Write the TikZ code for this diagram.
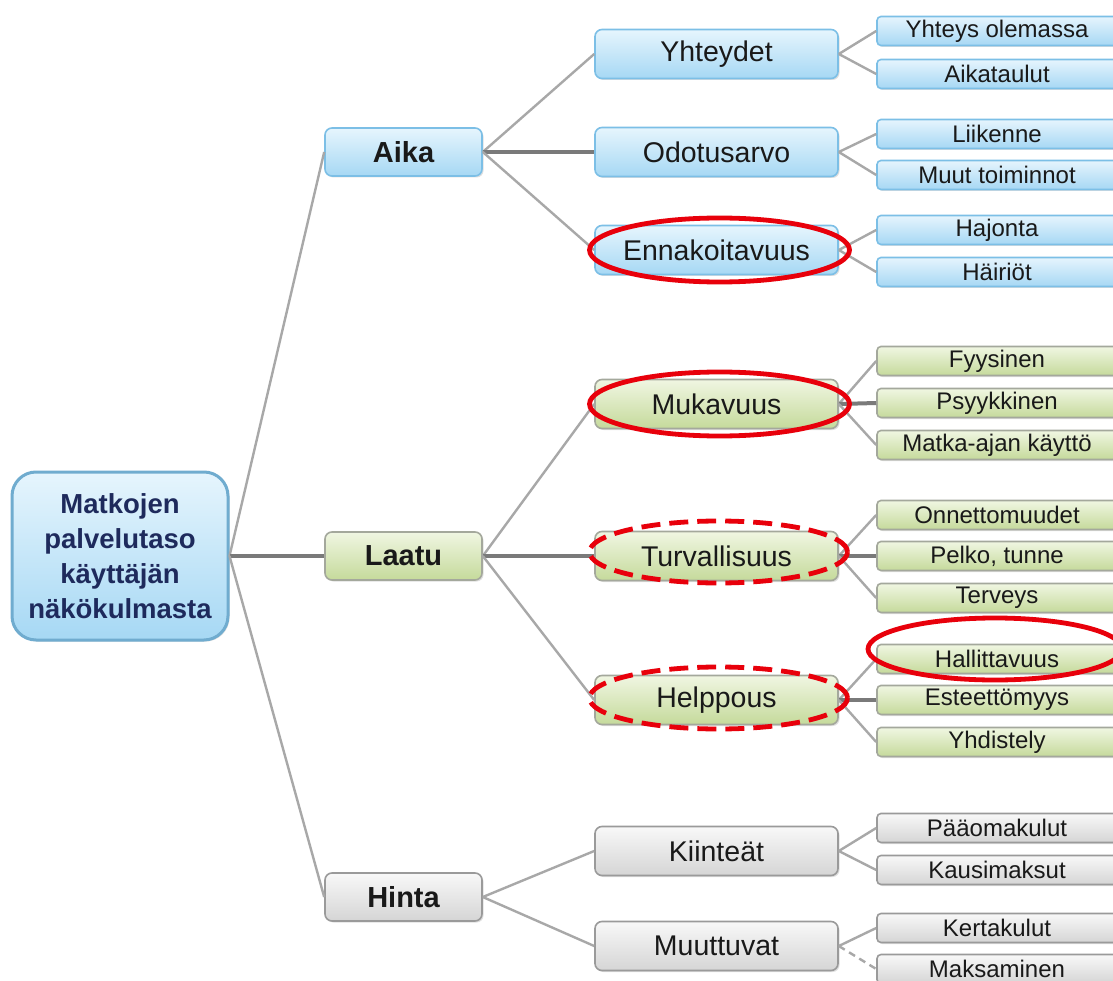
\documentclass[tikz,border=0pt]{standalone}
\usepackage{fontspec}
\setmainfont{Liberation Sans}
\usetikzlibrary{shadows}
\definecolor{bluetop}{HTML}{E6F5FD}
\definecolor{bluebot}{HTML}{A6D8F4}
\definecolor{blueline}{HTML}{7CBFE6}
\definecolor{greentop}{HTML}{F0F6E2}
\definecolor{greenbot}{HTML}{C5DA9B}
\definecolor{greenline}{HTML}{A4A89C}
\definecolor{greytop}{HTML}{F8F8F8}
\definecolor{greybot}{HTML}{D5D5D5}
\definecolor{greyline}{HTML}{9A9A9A}
\definecolor{linkgrey}{HTML}{A8A8A8}
\definecolor{rootink}{HTML}{1E2A5C}
\definecolor{ringred}{HTML}{E8000B}
\tikzset{
  box/.style={draw, rounded corners=7pt, line width=1.6pt, align=center, inner sep=0pt,
    text=black!90, drop shadow={shadow xshift=1.5pt, shadow yshift=-1.5pt, opacity=0.25}},
  rootbox/.style={box, draw=blueline!90!black, rounded corners=24pt, line width=3pt,
    top color=bluetop, bottom color=bluebot, text=rootink,
    minimum width=216pt, minimum height=168pt, font=\bfseries\fontsize{27.5}{35}\selectfont},
  lvlone/.style={box, minimum width=157pt, minimum height=48pt, font=\bfseries\fontsize{29}{34}\selectfont},
  lvltwo/.style={box, minimum width=243pt, minimum height=49pt, font=\fontsize{28.5}{34}\selectfont},
  lvlthree/.style={box, rounded corners=4pt, minimum width=240pt, minimum height=29pt, font=\fontsize{24}{28}\selectfont},
  aikafill/.style={draw=blueline, top color=bluetop, bottom color=bluebot},
  laatufill/.style={draw=greenline, top color=greentop, bottom color=greenbot},
  hintafill/.style={draw=greyline, top color=greytop, bottom color=greybot},
  link/.style={draw=linkgrey, line width=2.4pt},
  mainlink/.style={draw=black!52, line width=4pt},
  ring/.style={draw=ringred, line width=4.8pt},
  dashring/.style={ring, dash pattern=on 19pt off 9pt},
}

\begin{document}
\begin{tikzpicture}[x=1pt, y=-1pt]
		%%%%% FRAME %%%%%
		\path[use as bounding box, clip] (0, 0) rectangle (1113, 981);
		\fill[white] (0, 0) rectangle (1113, 981);
		
		%%%%% ROOT AND MAIN BRANCHES %%%%%
		\node[rootbox] (root) at (120, 556) {Matkojen\\palvelutaso\\käyttäjän\\näkökulmasta};
		\node[lvlone, aikafill] (aika) at (403.5, 152) {Aika};
		\node[lvlone, laatufill] (laatu) at (403.5, 556) {Laatu};
		\node[lvlone, hintafill] (hinta) at (403.5, 897) {Hinta};
		
		%%%%% SECOND LEVEL %%%%%
		\node[lvltwo, aikafill] (yhteydet) at (716.5, 54) {Yhteydet};
		\node[lvltwo, aikafill] (odotusarvo) at (716.5, 152) {Odotusarvo};
		\node[lvltwo, aikafill] (ennakoitavuus) at (716.5, 250) {Ennakoitavuus};
		\node[lvltwo, laatufill] (mukavuus) at (716.5, 404) {Mukavuus};
		\node[lvltwo, laatufill] (turvallisuus) at (716.5, 556) {Turvallisuus};
		\node[lvltwo, laatufill] (helppous) at (716.5, 700) {Helppous};
		\node[lvltwo, hintafill] (kiinteat) at (716.5, 851) {Kiinteät};
		\node[lvltwo, hintafill] (muuttuvat) at (716.5, 946) {Muuttuvat};
		
		%%%%% THIRD LEVEL %%%%%
		\node[lvlthree, aikafill] (yhteys) at (997, 31) {Yhteys olemassa};
		\node[lvlthree, aikafill] (aikataulut) at (997, 74) {Aikataulut};
		\node[lvlthree, aikafill] (liikenne) at (997, 134) {Liikenne};
		\node[lvlthree, aikafill] (muut) at (997, 175) {Muut toiminnot};
		\node[lvlthree, aikafill] (hajonta) at (997, 230) {Hajonta};
		\node[lvlthree, aikafill] (hairiot) at (997, 272) {Häiriöt};
		
		\node[lvlthree, laatufill] (fyysinen) at (997, 361) {Fyysinen};
		\node[lvlthree, laatufill] (psyykkinen) at (997, 403) {Psyykkinen};
		\node[lvlthree, laatufill] (matka) at (997, 445) {Matka-ajan käyttö};
		\node[lvlthree, laatufill] (onnettomuudet) at (997, 515) {Onnettomuudet};
		\node[lvlthree, laatufill] (pelko) at (997, 556) {Pelko, tunne};
		\node[lvlthree, laatufill] (terveys) at (997, 598) {Terveys};
		\node[lvlthree, laatufill] (hallittavuus) at (997, 659) {Hallittavuus};
		\node[lvlthree, laatufill] (esteettomyys) at (997, 700) {Esteettömyys};
		\node[lvlthree, laatufill] (yhdistely) at (997, 742) {Yhdistely};
		
		\node[lvlthree, hintafill] (paaoma) at (997, 828) {Pääomakulut};
		\node[lvlthree, hintafill] (kausi) at (997, 870) {Kausimaksut};
		\node[lvlthree, hintafill] (kerta) at (997, 928) {Kertakulut};
		\node[lvlthree, hintafill] (maksaminen) at (997, 969) {Maksaminen};
		
		%%%%% LINKS %%%%%
		\draw[link] (root.east) -- (aika.west);
		\draw[mainlink] (root.east) -- (laatu.west);
		\draw[link] (root.east) -- (hinta.west);
		
		\draw[link] (aika.east) -- (yhteydet.west);
		\draw[mainlink] (aika.east) -- (odotusarvo.west);
		\draw[link] (aika.east) -- (ennakoitavuus.west);
		\draw[link] (laatu.east) -- (mukavuus.west);
		\draw[mainlink] (laatu.east) -- (turvallisuus.west);
		\draw[link] (laatu.east) -- (helppous.west);
		\draw[link] (hinta.east) -- (kiinteat.west);
		\draw[link] (hinta.east) -- (muuttuvat.west);
		
		\draw[link] (yhteydet.east) -- (yhteys.west);
		\draw[link] (yhteydet.east) -- (aikataulut.west);
		\draw[link] (odotusarvo.east) -- (liikenne.west);
		\draw[link] (odotusarvo.east) -- (muut.west);
		\draw[link] (ennakoitavuus.east) -- (hajonta.west);
		\draw[link] (ennakoitavuus.east) -- (hairiot.west);
		\draw[link] (mukavuus.east) -- (fyysinen.west);
		\draw[mainlink] (mukavuus.east) -- (psyykkinen.west);
		\draw[link] (mukavuus.east) -- (matka.west);
		\draw[link] (turvallisuus.east) -- (onnettomuudet.west);
		\draw[mainlink] (turvallisuus.east) -- (pelko.west);
		\draw[link] (turvallisuus.east) -- (terveys.west);
		\draw[link] (helppous.east) -- (hallittavuus.west);
		\draw[mainlink] (helppous.east) -- (esteettomyys.west);
		\draw[link] (helppous.east) -- (yhdistely.west);
		\draw[link] (kiinteat.east) -- (paaoma.west);
		\draw[link] (kiinteat.east) -- (kausi.west);
		\draw[link] (muuttuvat.east) -- (kerta.west);
		\draw[link, dash pattern=on 7pt off 5pt] (muuttuvat.east) -- (maksaminen.west);
		
		%%%%% RED MARKS %%%%%
		\draw[ring] ([xshift=3pt]ennakoitavuus.center) ellipse [x radius=130pt, y radius=32pt];
		\draw[ring] ([xshift=3pt]mukavuus.center) ellipse [x radius=130pt, y radius=32pt];
		\draw[dashring] ([xshift=2pt, yshift=4pt]turvallisuus.center) ellipse [x radius=129pt, y radius=31pt];
		\draw[dashring] ([xshift=2pt, yshift=2pt]helppous.center) ellipse [x radius=129pt, y radius=31pt];
		\draw[ring] ([xshift=-2pt, yshift=10pt]hallittavuus.center) ellipse [x radius=127pt, y radius=31pt];
		%%%%% END %%%%%
	\end{tikzpicture}
\end{document}
